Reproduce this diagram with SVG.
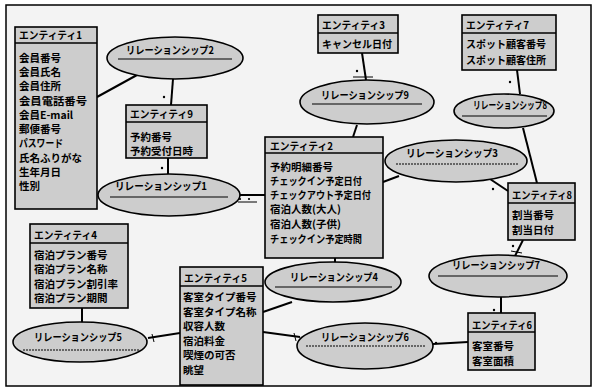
<svg xmlns="http://www.w3.org/2000/svg" width="596" height="390" viewBox="0 0 596 390">
<style>
.ent rect{fill:#cdcdcd;stroke:#000;stroke-width:1.6}
.ent line{stroke:#000;stroke-width:1.4}
.rel ellipse{fill:#cdcdcd;stroke:#000;stroke-width:1.6}
.rel line{stroke:#000;stroke-width:1.2}
.rel line.dot{stroke-dasharray:2 1}
text{font-family:"Noto Sans CJK JP","Noto Sans",sans-serif;font-size:10.5px;font-weight:bold;fill:#000}
.rel text{text-anchor:middle}
.conn line,.conn path{stroke:#000;stroke-width:2;fill:none}
.conn line.thin{stroke-width:1}
.conn circle{fill:#000}
</style>
<rect x="6" y="5" width="585" height="381" fill="#f3f3f3" stroke="#000" stroke-width="1.5"/>

<g class="conn" id="connectors">
  <line x1="97" y1="97" x2="137" y2="75"/>
  <line x1="173" y1="79" x2="171" y2="105"/>
  <circle cx="164" cy="97" r="1.2"/>
  <line x1="168" y1="158" x2="168" y2="178"/>
  <circle cx="162" cy="168" r="1.2"/>
  <line x1="239" y1="195" x2="265" y2="195"/>
  <circle cx="240" cy="199" r="1.1"/><circle cx="249" cy="199" r="1.1"/>
  <line class="thin" x1="238" y1="202" x2="257" y2="202"/>
  <line x1="362" y1="53" x2="366" y2="80"/>
  <line class="thin" x1="353" y1="77" x2="373" y2="77"/>
  <circle cx="357" cy="71" r="1.2"/>
  <line x1="357" y1="125" x2="353" y2="137"/>
  <line x1="517" y1="70" x2="520" y2="94"/>
  <circle cx="510" cy="82" r="1.2"/>
  <line x1="523" y1="128" x2="537" y2="183"/>
  <line x1="383" y1="182" x2="399" y2="176"/>
  <line x1="490" y1="179" x2="508" y2="191"/>
  <circle cx="493" cy="189" r="1.2"/>
  <line x1="523" y1="240" x2="515" y2="256"/>
  <line class="thin" x1="511" y1="251" x2="522" y2="253"/>
  <circle cx="513" cy="246" r="1.2"/>
  <line x1="501" y1="297" x2="501" y2="313"/>
  <circle cx="494" cy="310" r="1.2"/>
  <line x1="335" y1="258" x2="335" y2="264"/>
  <line x1="292" y1="302" x2="263" y2="312"/>
  <line x1="263" y1="332" x2="300" y2="337"/>
  <line class="thin" x1="294" y1="333" x2="296" y2="341"/>
  <line x1="433" y1="344" x2="468" y2="342"/>
  <circle cx="436" cy="343" r="1.2"/>
  <line x1="82" y1="308" x2="82" y2="323"/>
  <line x1="148" y1="338" x2="180" y2="333"/>
  <line class="thin" x1="152" y1="334" x2="154" y2="342"/>
</g>

<g class="ent" id="entity1">
  <rect x="15" y="27" width="82" height="182"/>
  <line x1="15" y1="43" x2="97" y2="43"/>
  <text x="19" y="39" textLength="63" lengthAdjust="spacingAndGlyphs">エンティティ1</text>
  <text x="19" y="62">会員番号</text>
  <text x="19" y="76">会員氏名</text>
  <text x="19" y="90">会員住所</text>
  <text x="19" y="104.5" textLength="68" lengthAdjust="spacingAndGlyphs">会員電話番号</text>
  <text x="19" y="119">会員E-mail</text>
  <text x="19" y="133">郵便番号</text>
  <text x="19" y="147" textLength="44" lengthAdjust="spacingAndGlyphs">パスワード</text>
  <text x="19" y="161.5">氏名ふりがな</text>
  <text x="19" y="176">生年月日</text>
  <text x="19" y="190">性別</text>
</g>

<g class="ent" id="entity9">
  <rect x="126" y="105" width="81" height="53"/>
  <line x1="126" y1="122" x2="207" y2="122"/>
  <text x="130" y="118" textLength="63" lengthAdjust="spacingAndGlyphs">エンティティ9</text>
  <text x="130" y="141">予約番号</text>
  <text x="130" y="155">予約受付日時</text>
</g>

<g class="ent" id="entity3">
  <rect x="318" y="15" width="80" height="38"/>
  <line x1="318" y1="33" x2="398" y2="33"/>
  <text x="322" y="29" textLength="63" lengthAdjust="spacingAndGlyphs">エンティティ3</text>
  <text x="322" y="48" textLength="70" lengthAdjust="spacingAndGlyphs">キャンセル日付</text>
</g>

<g class="ent" id="entity7">
  <rect x="462" y="15" width="94" height="55"/>
  <line x1="462" y1="33" x2="556" y2="33"/>
  <text x="466" y="29" textLength="63" lengthAdjust="spacingAndGlyphs">エンティティ7</text>
  <text x="466" y="48" textLength="80" lengthAdjust="spacingAndGlyphs">スポット顧客番号</text>
  <text x="466" y="64" textLength="80" lengthAdjust="spacingAndGlyphs">スポット顧客住所</text>
</g>

<g class="ent" id="entity2">
  <rect x="265" y="137" width="118" height="121"/>
  <line x1="265" y1="153" x2="383" y2="153"/>
  <text x="270" y="150" textLength="63" lengthAdjust="spacingAndGlyphs">エンティティ2</text>
  <text x="270" y="171">予約明細番号</text>
  <text x="270" y="185" textLength="92" lengthAdjust="spacingAndGlyphs">チェックイン予定日付</text>
  <text x="270" y="199" textLength="101" lengthAdjust="spacingAndGlyphs">チェックアウト予定日付</text>
  <text x="270" y="213">宿泊人数(大人)</text>
  <text x="270" y="228">宿泊人数(子供)</text>
  <text x="270" y="243" textLength="92" lengthAdjust="spacingAndGlyphs">チェックイン予定時間</text>
</g>

<g class="ent" id="entity8">
  <rect x="508" y="183" width="67" height="57"/>
  <line x1="508" y1="203" x2="575" y2="203"/>
  <text x="512" y="199" textLength="60" lengthAdjust="spacingAndGlyphs">エンティティ8</text>
  <text x="512" y="219">割当番号</text>
  <text x="512" y="234">割当日付</text>
</g>

<g class="ent" id="entity4">
  <rect x="30" y="224" width="98" height="84"/>
  <line x1="30" y1="243" x2="128" y2="243"/>
  <text x="34" y="239" textLength="63" lengthAdjust="spacingAndGlyphs">エンティティ4</text>
  <text x="34" y="259">宿泊プラン番号</text>
  <text x="34" y="273">宿泊プラン名称</text>
  <text x="34" y="288">宿泊プラン割引率</text>
  <text x="34" y="302">宿泊プラン期間</text>
</g>

<g class="ent" id="entity5">
  <rect x="180" y="267" width="83" height="118"/>
  <line x1="180" y1="286" x2="263" y2="286"/>
  <text x="184" y="282" textLength="63" lengthAdjust="spacingAndGlyphs">エンティティ5</text>
  <text x="183" y="301">客室タイプ番号</text>
  <text x="183" y="316">客室タイプ名称</text>
  <text x="183" y="330">収容人数</text>
  <text x="183" y="345">宿泊料金</text>
  <text x="183" y="359">喫煙の可否</text>
  <text x="183" y="374">眺望</text>
</g>

<g class="ent" id="entity6">
  <rect x="468" y="313" width="67" height="57"/>
  <line x1="468" y1="332" x2="535" y2="332"/>
  <text x="472" y="329" textLength="60" lengthAdjust="spacingAndGlyphs">エンティティ6</text>
  <text x="472" y="350">客室番号</text>
  <text x="472" y="365">客室面積</text>
</g>

<g class="rel" id="rel2">
  <ellipse cx="175" cy="58" rx="68" ry="21"/>
  <text x="170" y="54" textLength="88" lengthAdjust="spacingAndGlyphs">リレーションシップ2</text>
  <line x1="118" y1="59" x2="232" y2="59"/>
</g>

<g class="rel" id="rel9">
  <ellipse cx="367" cy="102" rx="67" ry="22"/>
  <text x="365" y="99" textLength="88" lengthAdjust="spacingAndGlyphs">リレーションシップ9</text>
  <line x1="312" y1="104" x2="422" y2="104"/>
</g>

<g class="rel" id="rel8">
  <ellipse cx="504" cy="111" rx="50" ry="17"/>
  <text x="510" y="109" textLength="74" lengthAdjust="spacingAndGlyphs">リレーションシップ8</text>
  <line x1="462" y1="116" x2="547" y2="116"/>
</g>

<g class="rel" id="rel3">
  <ellipse cx="456" cy="161" rx="71" ry="21"/>
  <text x="452" y="157" textLength="92" lengthAdjust="spacingAndGlyphs">リレーションシップ3</text>
  <line class="dot" x1="396" y1="164" x2="518" y2="164"/>
</g>

<g class="rel" id="rel1">
  <ellipse cx="169" cy="195" rx="71" ry="21"/>
  <text x="161" y="190" textLength="92" lengthAdjust="spacingAndGlyphs">リレーションシップ1</text>
  <line x1="110" y1="197" x2="228" y2="197"/>
</g>

<g class="rel" id="rel4">
  <ellipse cx="333" cy="282" rx="68" ry="20"/>
  <text x="334" y="281" textLength="88" lengthAdjust="spacingAndGlyphs">リレーションシップ4</text>
  <line x1="275" y1="287" x2="392" y2="287"/>
</g>

<g class="rel" id="rel7">
  <ellipse cx="498" cy="276" rx="69" ry="21"/>
  <text x="496" y="269" textLength="88" lengthAdjust="spacingAndGlyphs">リレーションシップ7</text>
  <line x1="438" y1="276" x2="558" y2="276"/>
</g>

<g class="rel" id="rel5">
  <ellipse cx="80" cy="342" rx="67" ry="20"/>
  <text x="78" y="341" textLength="88" lengthAdjust="spacingAndGlyphs">リレーションシップ5</text>
  <line class="dot" x1="23" y1="350" x2="140" y2="350"/>
</g>

<g class="rel" id="rel6">
  <ellipse cx="365" cy="346" rx="68" ry="23"/>
  <text x="365" y="341" textLength="88" lengthAdjust="spacingAndGlyphs">リレーションシップ6</text>
  <line class="dot" x1="306" y1="346" x2="426" y2="346"/>
</g>
</svg>
